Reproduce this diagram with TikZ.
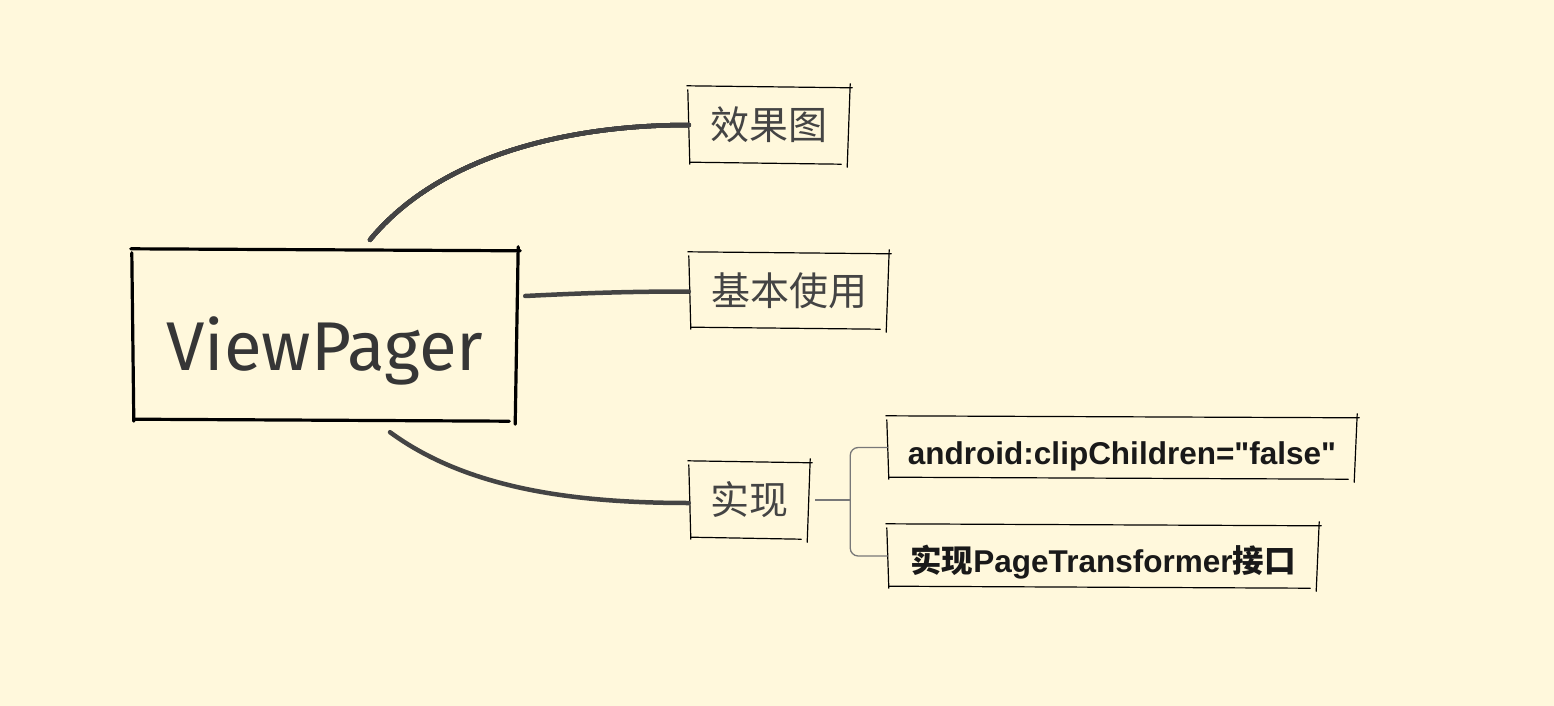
\documentclass[tikz,border=0pt]{standalone}
\usepackage{fontspec}
\setmainfont{Liberation Sans}[Ligatures=TeXOff]
\newfontfamily\cjk{Noto Sans CJK SC}
\newfontfamily\hand{Fira Sans}
\usetikzlibrary{calc}
\definecolor{paper}{RGB}{255,248,220}
\definecolor{ink}{RGB}{68,68,68}
\definecolor{twigc}{RGB}{120,120,120}
\tikzset{
  topic/.style={inner sep=0pt, text=ink, font=\cjk\fontsize{39}{39}\selectfont},
  leaf/.style={inner sep=0pt, text=black!90, font=\bfseries\fontsize{31.5}{31.5}\selectfont, text depth=0pt},
  branch/.style={draw=ink, line width=4.5pt, line cap=round},
  twig/.style={draw=twigc, line width=1.3pt}
}
% hand drawn box round a node
\newcommand\sketchbox[2][1.2pt]{%
  \draw[line width=#1, line cap=round] ([xshift=-2pt,yshift=1pt]#2.north west) -- ([xshift=3pt,yshift=-1pt]#2.north east);
  \draw[line width=#1, line cap=round] ([xshift=1pt,yshift=3pt]#2.north east) -- ([xshift=-2pt,yshift=-4pt]#2.south east);
  \draw[line width=#1, line cap=round] ([xshift=-8pt,yshift=-1pt]#2.south east) -- ([xshift=1pt,yshift=1pt]#2.south west);
  \draw[line width=#1, line cap=round] ([xshift=1pt,yshift=-1pt]#2.south west) -- ([xshift=-1pt,yshift=-3pt]#2.north west);
}
\begin{document}
\begin{tikzpicture}[x=1pt, y=-1pt]
  \fill[paper] (0,0) rectangle (1554,706);
  \useasboundingbox (0,0) rectangle (1554,706);
  % nodes
  \node[inner sep=0pt, minimum width=384pt, minimum height=170pt, text=ink!80!black,
        text height=70pt, text depth=0pt,
        font=\hand\fontsize{69}{69}\selectfont] (root) at (325,335) {ViewPager};
  \node[topic, minimum width=160pt, minimum height=76pt] (fx) at (769,125) {效果图};
  \node[topic, minimum width=198pt, minimum height=75pt] (jb) at (789,290.5) {基本使用};
  \node[topic, minimum width=119pt, minimum height=76pt] (sx) at (749.5,500) {实现};
  \node[leaf, minimum width=468pt, minimum height=61pt, text height=33pt] (clip) at (1122,447.5)
        {android:clipChildren="false"};
  \node[leaf, minimum width=430pt, minimum height=62pt, text height=32pt] (pt) at (1103,556)
        {{\cjk\bfseries 实现}PageTransformer{\cjk\bfseries 接口}};
  \sketchbox[3.2pt]{root}
  \foreach \n in {fx,jb,sx,clip,pt} \sketchbox{\n}
  % branches
  \draw[branch] ($(root.north)+(45,-10)$) .. controls +(70,-85) and +(-120,0) .. (fx.west);
  \draw[branch] ($(root.east)+(8,-39)$) .. controls +(60,-3) and +(-60,0) .. ($(jb.west)+(-1,1)$);
  \draw[branch] ($(root.south)+(65,12)$) .. controls +(75,55) and +(-120,0) .. ($(sx.west)+(-1,3)$);
  \draw[twig] ($(sx.east)+(6,0)$) -- ++(35,0) coordinate (fork);
  \draw[twig, rounded corners=8pt] (clip.west) -| (fork) |- (pt.west);
\end{tikzpicture}
\end{document}
